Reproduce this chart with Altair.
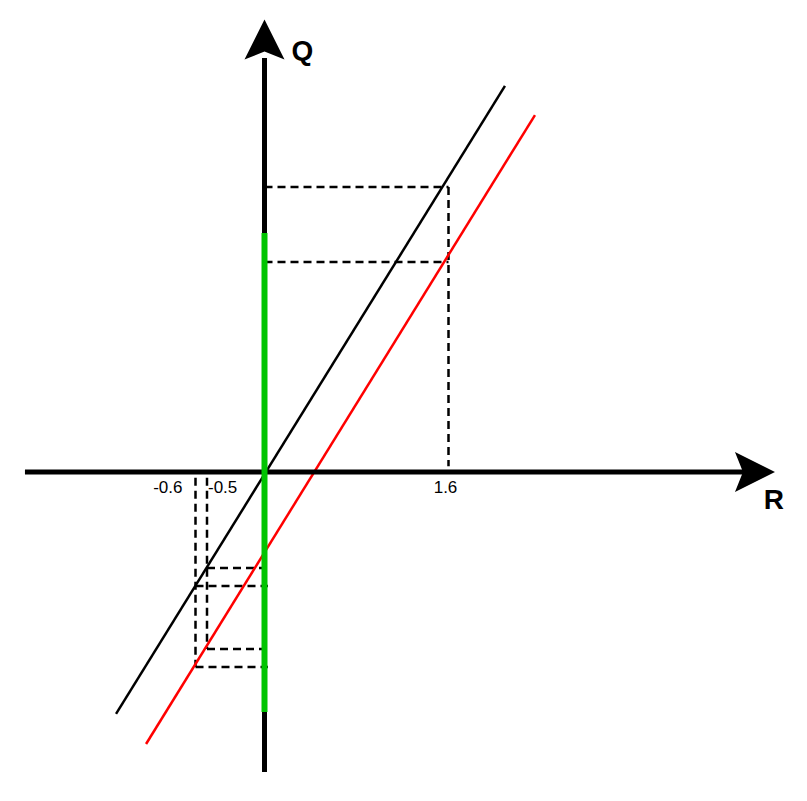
import altair as alt
import pandas as pd

# ---- chart values (R, Q units) ----
black_R = [-1.291, 2.091]
black_Q = [-2.104, 3.357]
red_R = [-1.030, 2.352]
red_Q = [-2.365, 3.104]
green_Q = [-2.087, 2.078]

# dashed guides: (r1, q1, r2, q2)
dash_r1 = [0.0, 0.0, 1.6, -0.5, -0.6, -0.5, -0.6, -0.5, -0.6]
dash_q1 = [2.478, 1.826, 2.478, -0.05, -0.05, -0.835, -0.991, -1.539, -1.696]
dash_r2 = [1.6, 1.6, 1.6, -0.5, -0.6, 0.03, 0.03, 0.03, 0.03]
dash_q2 = [2.478, 1.826, 0.05, -1.539, -1.696, -0.835, -0.991, -1.539, -1.696]

tick_values = [-0.6, -0.5, 1.6]
tick_labels = ["-0.6", "-0.5", "1.6"]

axis_R = [-2.083, 4.204]
axis_Q = [-2.609, 3.60]

# ---- layout ----
W, H = 791, 785
S = 115.0
X0, Y0 = 264.5, 472.0
xdom = [(8 - X0) / S, (8 + W - X0) / S]
ydom = [(Y0 - 8 - H) / S, (Y0 - 8) / S]
xs = alt.Scale(domain=xdom, zero=False, nice=False)
ys = alt.Scale(domain=ydom, zero=False, nice=False)
FONT = "Liberation Sans"

def seg_df(r1, q1, r2, q2):
    return pd.DataFrame({"r1": r1, "q1": q1, "r2": r2, "q2": q2})

def seg_enc(ch):
    return ch.encode(
        x=alt.X("r1:Q", scale=xs, axis=None),
        y=alt.Y("q1:Q", scale=ys, axis=None),
        x2="r2:Q",
        y2="q2:Q",
    )

dashed = seg_enc(alt.Chart(seg_df(dash_r1, dash_q1, dash_r2, dash_q2)).mark_rule(
    color="black", strokeWidth=2.5, strokeDash=[8, 5]))

black_line = seg_enc(alt.Chart(seg_df([black_R[0]], [black_Q[0]], [black_R[1]], [black_Q[1]])).mark_rule(
    color="black", strokeWidth=2.5))
red_line = seg_enc(alt.Chart(seg_df([red_R[0]], [red_Q[0]], [red_R[1]], [red_Q[1]])).mark_rule(
    color="#ff0000", strokeWidth=2.5))

axes = seg_enc(alt.Chart(seg_df([axis_R[0], 0.0], [0.0, axis_Q[0]], [axis_R[1], 0.0], [0.0, axis_Q[1]])).mark_rule(
    color="black", strokeWidth=5))

green = seg_enc(alt.Chart(seg_df([0.0], [green_Q[0]], [0.0], [green_Q[1]])).mark_rule(
    color="#00c400", strokeWidth=6))

arrow_path = "M0,-1 L1,1 L0,0.6 L-1,1 Z"
arrows = alt.Chart(pd.DataFrame({"r": [0.0, 4.265], "q": [3.761, 0.0], "ang": [0, 90]})).mark_point(
    shape=arrow_path, filled=True, color="black", opacity=1, size=1600, strokeWidth=0
).encode(
    x=alt.X("r:Q", scale=xs, axis=None),
    y=alt.Y("q:Q", scale=ys, axis=None),
    angle=alt.Angle("ang:Q", scale=None),
)

tick_q = -0.183
def tick_text(i, align, dx):
    return alt.Chart(pd.DataFrame({"r": [tick_values[i]], "q": [tick_q], "t": [tick_labels[i]]})).mark_text(
        align=align, baseline="alphabetic", dx=dx, font=FONT, fontSize=17, color="black"
    ).encode(
        x=alt.X("r:Q", scale=xs, axis=None),
        y=alt.Y("q:Q", scale=ys, axis=None),
        text="t:N",
    )

ticks = tick_text(0, "right", -13) + tick_text(1, "left", 1) + tick_text(2, "center", -3)

axis_names = alt.Chart(pd.DataFrame({"r": [0.33, 4.43], "q": [3.583, -0.322], "t": ["Q", "R"]})).mark_text(
    align="center", baseline="alphabetic", font=FONT, fontSize=28, fontWeight="bold", color="black"
).encode(
    x=alt.X("r:Q", scale=xs, axis=None),
    y=alt.Y("q:Q", scale=ys, axis=None),
    text="t:N",
)

chart = alt.layer(
    dashed, black_line, red_line, axes, green, arrows, ticks, axis_names
).properties(
    width=W, height=H, autosize=alt.AutoSizeParams(type="none"), padding=0
).configure_view(stroke=None)

chart.save("out.html", embed_options={"renderer": "svg", "actions": False})
